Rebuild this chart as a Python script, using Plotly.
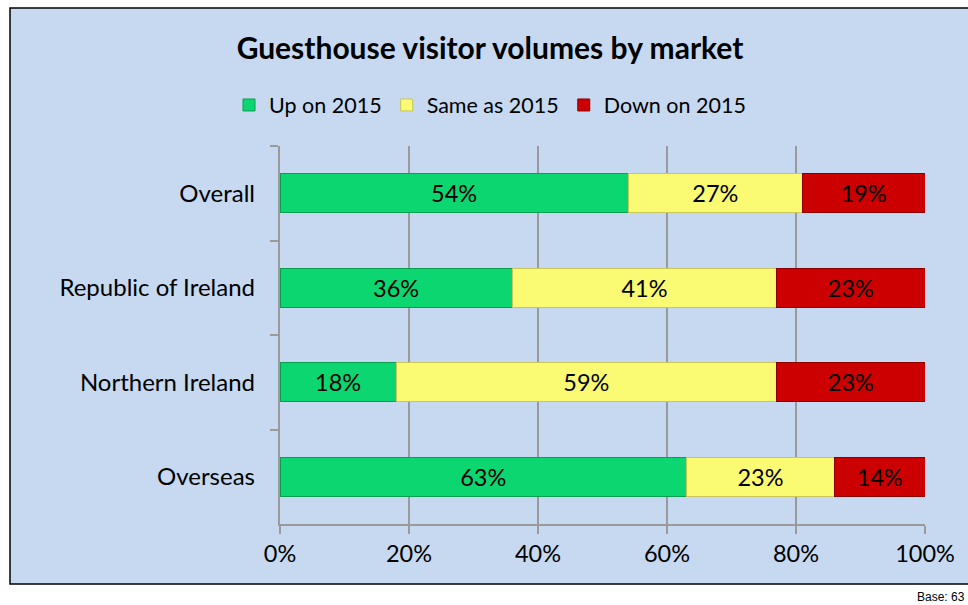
import plotly.graph_objects as go

categories = ["Overall", "Republic of Ireland", "Northern Ireland", "Overseas"]
up_on_2015 = [54, 36, 18, 63]
same_as_2015 = [27, 41, 59, 23]
down_on_2015 = [19, 23, 23, 14]
series_names = ["Up on 2015", "Same as 2015", "Down on 2015"]
x_tick_values = [0, 20, 40, 60, 80, 100]
x_tick_labels = ["0%", "20%", "40%", "60%", "80%", "100%"]

colors = ["#0CD66F", "#FAFA73", "#CC0000"]
line_colors = ["#0A9E52", "#C9C65A", "#8E0000"]
FONT = "Lato, Carlito, Calibri, 'Open Sans', sans-serif"

W, H = 968, 605
L, R, T, B = 280, 968 - 925, 146, 605 - 524
pw, ph = W - L - R, H - T - B


def px(xw):
    return (xw - L) / pw


def py(yw):
    return (H - B - yw) / ph


fig = go.Figure()
for name, vals, c, lc in zip(series_names, [up_on_2015, same_as_2015, down_on_2015], colors, line_colors):
    fig.add_trace(go.Bar(
        y=categories, x=vals, name=name, orientation="h",
        marker=dict(color=c, line=dict(color=lc, width=1)),
        text=[f"{v}%" for v in vals], textposition="inside",
        insidetextanchor="middle", textangle=0,
        textfont=dict(color="black", size=23.5, family=FONT),
        width=0.41,
    ))

fig.add_shape(type="rect", xref="paper", yref="paper",
              x0=px(10), x1=px(985), y0=py(584), y1=py(8),
              fillcolor="#C6D9F0", line=dict(color="black", width=1.5), layer="below")

fig.add_annotation(text="Base: 63", xref="paper", yref="paper",
                   x=px(967), y=py(597), xanchor="right", yanchor="middle",
                   showarrow=False, font=dict(family="Arial, Liberation Sans", size=12, color="black"))

fig.update_layout(
    width=W, height=H,
    barmode="stack",
    margin=dict(l=L, r=R, t=T, b=B),
    paper_bgcolor="white",
    plot_bgcolor="white",
    font=dict(family=FONT, color="black"),
    title=dict(text="<b>Guesthouse visitor volumes by market</b>", x=490 / W, xanchor="center",
               y=1 - 48 / H, yanchor="middle", font=dict(size=30, family=FONT, color="black")),
    legend=dict(orientation="h", x=490 / W, xref="container", xanchor="center",
                y=1 - 105 / H, yref="container", yanchor="middle",
                font=dict(size=21.5, family=FONT), bgcolor="rgba(0,0,0,0)",
                traceorder="normal", itemwidth=30),
    showlegend=True,
)
fig.update_xaxes(range=[0, 100], tickvals=x_tick_values, ticktext=x_tick_labels,
                 showgrid=True, gridcolor="#9A9A9A", gridwidth=1.5,
                 showline=True, linecolor="#9A9A9A", linewidth=1.5,
                 ticks="outside", ticklen=8, tickcolor="#9A9A9A", tickwidth=1.5,
                 tickfont=dict(size=23.5, family=FONT), zeroline=False, fixedrange=True)
fig.update_yaxes(autorange="reversed", showline=True, linecolor="#9A9A9A", linewidth=1.5,
                 ticks="outside", tickson="boundaries", ticklen=8, tickcolor="#9A9A9A", tickwidth=1.5,
                 tickfont=dict(size=24, family=FONT), ticksuffix="   ", showgrid=False)

fig.write_html("out.html", config={"displayModeBar": False},
               post_script="document.body.style.margin='0';document.body.style.overflow='hidden';")
